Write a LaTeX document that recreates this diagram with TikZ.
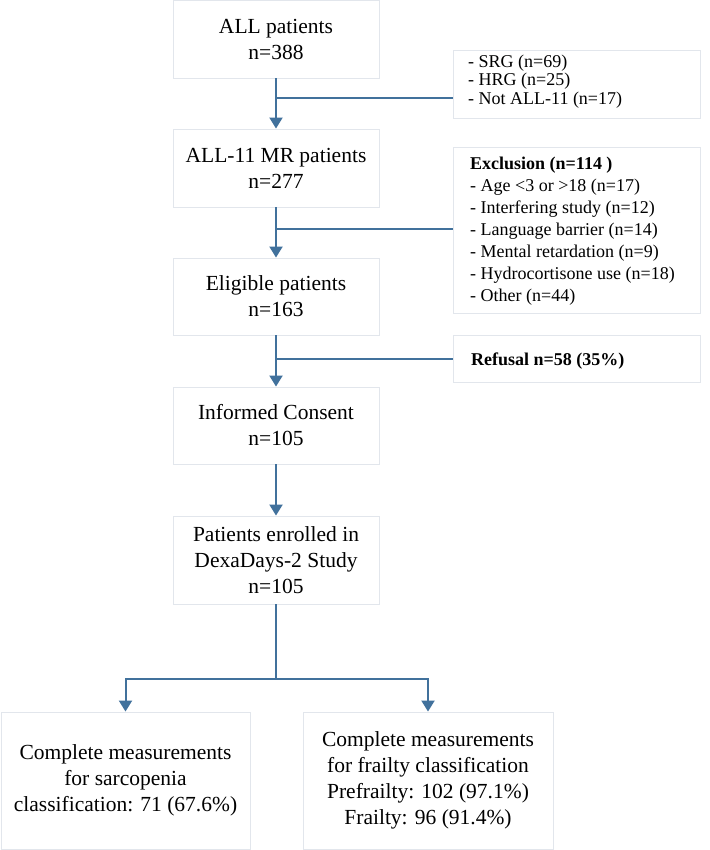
\documentclass[tikz,border=0pt]{standalone}
\usepackage{fontspec}
\setmainfont{Liberation Serif}
\usetikzlibrary{arrows.meta}
\definecolor{flowblue}{RGB}{65,113,156}
\definecolor{boxline}{RGB}{226,230,236}
\begin{document}
\begin{tikzpicture}[x=1pt,y=-1pt,
  mainbox/.style={draw=boxline,line width=0.9pt,fill=white,minimum width=206pt,inner sep=0pt,align=center,
    font=\fontsize{21.5}{26}\selectfont},
  sidebox/.style={draw=boxline,line width=0.9pt,fill=white,minimum width=247pt,inner sep=0pt},
  sidetext/.style={anchor=north west,inner sep=0pt,align=left,font=\fontsize{18}{22}\selectfont},
  conn/.style={draw=flowblue,line width=2pt},
  arr/.style={conn,-{Triangle[width=13pt,length=11pt]}}]
\useasboundingbox (0,0) rectangle (709,850);
\fill[white] (0,0) rectangle (709,850);
% main column
\node[mainbox,minimum height=78pt] (b1) at (276,39) {ALL patients\\n=388};
\node[mainbox,minimum height=78pt] (b2) at (276,168) {ALL-11 MR patients\\n=277};
\node[mainbox,minimum height=77pt] (b3) at (276,296.5) {Eligible patients\\n=163};
\node[mainbox,minimum height=77pt] (b4) at (276,425.5) {Informed Consent\\n=105};
\node[mainbox,minimum height=88pt] (b5) at (276,560) {Patients enrolled in\\DexaDays-2 Study\\n=105};
% bottom boxes
\node[mainbox,minimum width=249pt,minimum height=137pt] (bl) at (125.5,780.5)
  {Complete measurements\\for sarcopenia\\classification: 71 (67.6\%)};
\node[mainbox,minimum width=250pt,minimum height=137pt] (br) at (428,780.5)
  {Complete measurements\\for frailty classification\\Prefrailty: 102 (97.1\%)\\Frailty: 96 (91.4\%)};
% side boxes
\node[sidebox,minimum height=68pt] (s1) at (576.5,84) {};
\node[sidetext,font=\fontsize{18}{18.6}\selectfont] (t1) at (468,54)
  {\strut- SRG (n=69)\\- HRG (n=25)\\- Not ALL-11 (n=17)};
\node[sidebox,minimum height=166pt] (s2) at (576.5,230) {};
\node[sidetext] (t2) at (470,154.1)
  {\strut\textbf{Exclusion (n=114 )}\\- Age <3 or >18 (n=17)\\- Interfering study (n=12)\\- Language barrier (n=14)\\- Mental retardation (n=9)\\- Hydrocortisone use (n=18)\\- Other (n=44)};
\node[sidebox,minimum height=47pt] (s3) at (576.5,358.5) {};
\node[sidetext,anchor=base west] (t3) at (471,365) {\textbf{Refusal n=58 (35\%)}};
% junctions
\coordinate (j1) at (276,98);
\coordinate (j2) at (276,229);
\coordinate (j3) at (276,359);
\coordinate (j5) at (276,679);
% connectors
\draw[arr] (b1.south) -- (b2.north);
\draw[arr] (b2.south) -- (b3.north);
\draw[arr] (b3.south) -- (b4.north);
\draw[arr] (b4.south) -- (b5.north);
\draw[conn] (j1) -- (j1 -| s1.west);
\draw[conn] (j2) -- (j2 -| s2.west);
\draw[conn] (j3) -- (j3 -| s3.west);
\draw[conn] (b5.south) -- (j5);
\draw[arr] (j5) -| (bl.north);
\draw[arr] (j5) -| (br.north);
\end{tikzpicture}
\end{document}
